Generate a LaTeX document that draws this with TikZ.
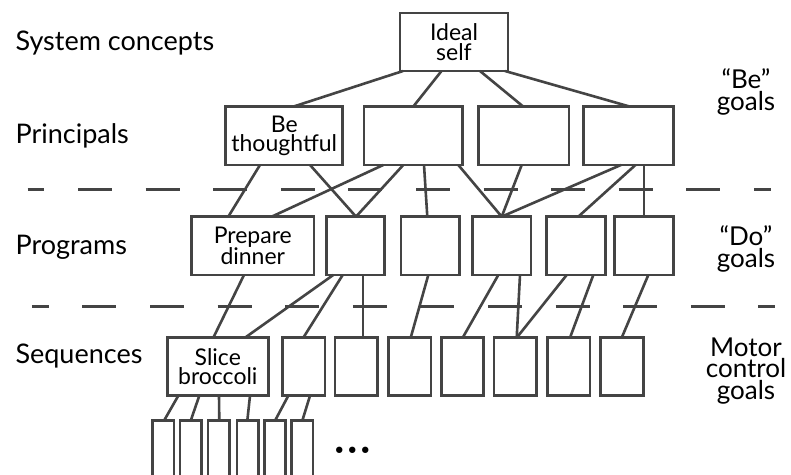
\documentclass[tikz,border=0pt]{standalone}
\usepackage{fontspec}
\setmainfont{Lato}
\newfontfamily\dotsfont{DejaVu Sans}
\definecolor{linegray}{HTML}{444444}
\begin{document}
\begin{tikzpicture}[x=1pt,y=-1pt,
  box/.style={draw=linegray, line width=2.6pt, rectangle, inner sep=0pt, outer sep=0pt,
    align=center, text=black, font=\fontsize{23}{19.5}\selectfont},
  link/.style={draw=linegray, line width=2.6pt},
  level/.style={anchor=base west, text=black, font=\fontsize{27}{27}\selectfont},
  goal/.style={align=center, text=black, font=\fontsize{26}{21.5}\selectfont},
  divider/.style={draw=linegray, line width=2.6pt, dash pattern=on 34pt off 33.6pt}]
\fill[white] (0,0) rectangle (791,474);
\useasboundingbox (0,0) rectangle (791,474);
\clip (0,0) rectangle (791,474);

% level names
\node[level] (lsys) at (12,50) {System concepts};
\node[level] (lpri) at (12,143) {Principals};
\node[level] (lpro) at (12,254) {Programs};
\node[level] (lseq) at (12,363) {Sequences};

% goal kinds
\node[goal] (gbe) at (746,92) {“Be”\\goals};
\node[goal] (gdo) at (746,249) {“Do”\\goals};
\node[goal] (gmo) at (746,371) {Motor\\control\\goals};

% dividers between goal kinds
\draw[divider, dash phase=17.3pt] (27.7,189.5) -- (771,189.5);
\draw[divider, dash phase=17pt] (31.8,306.5) -- (774.5,306.5);

% system concept
\node[box, minimum width=108pt, minimum height=58pt] (ideal) at (454,42) {Ideal\\self};

% principles
\begin{scope}[every node/.append style={minimum height=58.3pt}]
\node[box, minimum width=117pt] (pr1) at (284.2,135.8) {Be\\thoughtful};
\node[box, minimum width=98.3pt] (pr2) at (413.2,135.8) {};
\node[box, minimum width=90.3pt] (pr3) at (523.8,135.8) {};
\node[box, minimum width=90pt] (pr4) at (628.3,135.8) {};
\end{scope}

% programs
\begin{scope}[every node/.append style={minimum height=58.3pt}]
\node[box, minimum width=122.3pt] (pg1) at (252.8,245.8) {Prepare\\dinner};
\node[box, minimum width=57.6pt] (pg2) at (355.5,245.8) {};
\node[box, minimum width=58.3pt] (pg3) at (430.2,245.8) {};
\node[box, minimum width=58.3pt] (pg4) at (501.8,245.8) {};
\node[box, minimum width=59pt] (pg5) at (576.2,245.8) {};
\node[box, minimum width=59pt] (pg6) at (643.8,245.8) {};
\end{scope}

% sequences
\begin{scope}[every node/.append style={minimum height=58pt}]
\node[box, minimum width=101pt] (sq1) at (217.8,366.7) {Slice\\broccoli};
\node[box, minimum width=42.5pt] (sq2) at (303.8,366.7) {};
\node[box, minimum width=42.5pt] (sq3) at (356.3,366.7) {};
\node[box, minimum width=42.5pt] (sq4) at (409.7,366.7) {};
\node[box, minimum width=42.5pt] (sq5) at (462.5,366.7) {};
\node[box, minimum width=42.5pt] (sq6) at (515.3,366.7) {};
\node[box, minimum width=42.5pt] (sq7) at (568.7,366.7) {};
\node[box, minimum width=42.5pt] (sq8) at (622,366.7) {};
\end{scope}

% motor control
\begin{scope}[every node/.append style={minimum height=69.3pt, minimum width=21.4pt}]
\node[box] (mc1) at (163.3,455.35) {};
\node[box] (mc2) at (190.8,455.35) {};
\node[box] (mc3) at (218.5,455.35) {};
\node[box] (mc4) at (247.5,455.35) {};
\node[box] (mc5) at (275,455.35) {};
\node[box] (mc6) at (302.2,455.35) {};
\end{scope}
\node[text=black, font=\dotsfont\fontsize{22}{22}\selectfont, inner sep=0pt] (more) at (352.3,453.3) {•••};

% system concept to principles
\draw[link] ([xshift=-51pt]ideal.south) -- ([xshift=9.1pt]pr1.north);
\draw[link] ([xshift=-12.5pt]ideal.south) -- ([xshift=0pt]pr2.north);
\draw[link] ([xshift=26pt]ideal.south) -- ([xshift=-0.5pt]pr3.north);
\draw[link] ([xshift=51pt]ideal.south) -- ([xshift=1.7pt]pr4.north);

% principles to programs
\draw[link] ([xshift=-24.2pt]pr1.south) -- ([xshift=-24.5pt]pg1.north);
\draw[link] ([xshift=25.8pt]pr1.south) -- ([xshift=0.5pt]pg2.north);
\draw[link] ([xshift=-29.9pt]pr2.south) -- ([xshift=18.9pt]pg1.north);
\draw[link] ([xshift=-9.9pt]pr2.south) -- ([xshift=0.5pt]pg2.north);
\draw[link] ([xshift=10.8pt]pr2.south) -- ([xshift=-2.9pt]pg3.north);
\draw[link] ([xshift=45.1pt]pr2.south) -- ([xshift=-0.1pt]pg4.north);
\draw[link] ([xshift=-2.1pt]pr3.south) -- ([xshift=-0.1pt]pg4.north);
\draw[link] ([xshift=-7.3pt]pr4.south) -- ([xshift=-0.1pt]pg4.north);
\draw[link] ([xshift=7.2pt]pr4.south) -- ([xshift=2.1pt]pg5.north);
\draw[link] ([xshift=15.7pt]pr4.south) -- ([xshift=0.2pt]pg6.north);

% programs to sequences
\draw[link] ([xshift=-8.8pt]pg1.south) -- ([xshift=-4.5pt]sq1.north);
\draw[link] ([xshift=-22.2pt]pg2.south) -- ([xshift=27.2pt]sq1.north);
\draw[link] ([xshift=-12.8pt]pg2.south) -- ([xshift=-0.5pt]sq2.north);
\draw[link] ([xshift=7.5pt]pg2.south) -- ([xshift=6.7pt]sq3.north);
\draw[link] ([xshift=-1.9pt]pg3.south) -- ([xshift=1pt]sq4.north);
\draw[link] ([xshift=-3.5pt]pg4.south) -- ([xshift=0.2pt]sq5.north);
\draw[link] ([xshift=18.2pt]pg4.south) -- ([xshift=1.4pt]sq6.north);
\draw[link] ([xshift=-9.5pt]pg5.south) -- ([xshift=1.4pt]sq6.north);
\draw[link] ([xshift=17.1pt]pg5.south) -- ([xshift=1.3pt]sq7.north);
\draw[link] ([xshift=4.5pt]pg6.south) -- ([xshift=-0.3pt]sq8.north);

% sequences to motor control
\draw[link] ([xshift=-39.5pt]sq1.south) -- ([xshift=0.7pt]mc1.north);
\draw[link] ([xshift=-18.5pt]sq1.south) -- ([xshift=-0.1pt]mc2.north);
\draw[link] ([xshift=1.2pt]sq1.south) -- ([xshift=0.8pt]mc3.north);
\draw[link] ([xshift=32.2pt]sq1.south) -- ([xshift=-0.2pt]mc4.north);
\draw[link] ([xshift=-15.5pt]sq2.south) -- ([xshift=0pt]mc5.north);
\draw[link] ([xshift=6.2pt]sq2.south) -- ([xshift=0.1pt]mc6.north);
\end{tikzpicture}
\end{document}
